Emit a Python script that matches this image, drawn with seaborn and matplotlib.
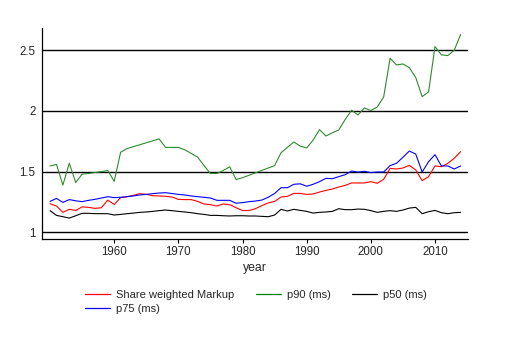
import numpy as np
import pandas as pd
import matplotlib
matplotlib.use("Agg")
import matplotlib.pyplot as plt
import seaborn as sns

years = list(range(1950, 2015))

markup = [1.236, 1.217, 1.165, 1.19, 1.18, 1.21, 1.206, 1.198, 1.203, 1.266,
          1.23, 1.286, 1.294, 1.305, 1.319, 1.313, 1.302, 1.30, 1.297, 1.291,
          1.272, 1.27, 1.27, 1.255, 1.234, 1.228, 1.217, 1.234, 1.228, 1.203,
          1.18, 1.18, 1.195, 1.22, 1.242, 1.255, 1.291, 1.297, 1.321, 1.321,
          1.313, 1.316, 1.332, 1.346, 1.357, 1.374, 1.387, 1.407, 1.407, 1.407,
          1.418, 1.404, 1.437, 1.527, 1.522, 1.53, 1.552, 1.514, 1.426, 1.459,
          1.547, 1.541, 1.569, 1.61, 1.665]

p90 = [1.547, 1.56, 1.39, 1.57, 1.41, 1.48, 1.485, 1.493, 1.50, 1.51,
       1.42, 1.66, 1.69, 1.706, 1.722, 1.738, 1.754, 1.77, 1.70, 1.70,
       1.70, 1.68, 1.65, 1.62, 1.55, 1.485, 1.485, 1.51, 1.54, 1.435,
       1.45, 1.47, 1.49, 1.51, 1.53, 1.55, 1.656, 1.70, 1.745, 1.71,
       1.695, 1.76, 1.846, 1.794, 1.82, 1.843, 1.93, 2.006, 1.967, 2.025,
       2.003, 2.033, 2.115, 2.434, 2.379, 2.387, 2.357, 2.275, 2.118, 2.157,
       2.53, 2.462, 2.456, 2.50, 2.63]

p50 = [1.179, 1.14, 1.129, 1.118, 1.137, 1.157, 1.157, 1.154, 1.154, 1.154,
       1.143, 1.148, 1.154, 1.159, 1.165, 1.168, 1.173, 1.179, 1.184, 1.179,
       1.173, 1.168, 1.162, 1.154, 1.148, 1.14, 1.14, 1.137, 1.135, 1.137,
       1.137, 1.135, 1.135, 1.132, 1.129, 1.143, 1.19, 1.176, 1.19, 1.181,
       1.173, 1.159, 1.165, 1.168, 1.173, 1.195, 1.187, 1.187, 1.192, 1.19,
       1.179, 1.165, 1.173, 1.179, 1.173, 1.184, 1.20, 1.206, 1.154, 1.17,
       1.181, 1.162, 1.154, 1.162, 1.165]

p75 = [1.255, 1.28, 1.247, 1.27, 1.26, 1.253, 1.264, 1.272, 1.283, 1.294,
       1.286, 1.289, 1.294, 1.30, 1.308, 1.313, 1.319, 1.324, 1.327, 1.32,
       1.313, 1.308, 1.30, 1.294, 1.289, 1.283, 1.264, 1.264, 1.264, 1.24,
       1.245, 1.253, 1.258, 1.266, 1.289, 1.32, 1.368, 1.368, 1.396, 1.40,
       1.38, 1.396, 1.418, 1.445, 1.442, 1.459, 1.475, 1.505, 1.497, 1.503,
       1.492, 1.497, 1.497, 1.55, 1.569, 1.618, 1.67, 1.645, 1.497, 1.582,
       1.64, 1.547, 1.547, 1.522, 1.547]

series_names = ["Share weighted Markup", "p90 (ms)", "p50 (ms)", "p75 (ms)"]
series_colors = ["#ff0000", "#2e8b2e", "#000000", "#0000ff"]
legend_colors = ["#ff0000", "#008000", "#000000", "#0000ff"]
yticks = [1, 1.5, 2, 2.5]
ytick_labels = ["1", "1.5", "2", "2.5"]
xticks = [1960, 1970, 1980, 1990, 2000, 2010]

df = pd.DataFrame({
    "year": years * 4,
    "value": markup + p90 + p50 + p75,
    "series": sum([[n] * len(years) for n in series_names], []),
})

sns.set_theme(style="white")
plt.rcParams["font.family"] = ["Liberation Sans", "DejaVu Sans"]

fig = plt.figure(figsize=(5.23, 3.42), dpi=100)
ax = fig.add_axes([0.081, 0.301, 0.8145, 0.616])

for y in yticks:
    ax.axhline(y, color="black", lw=1.0, zorder=1)

sns.lineplot(data=df, x="year", y="value", hue="series", hue_order=series_names,
             palette=dict(zip(series_names, series_colors)), lw=0.8,
             legend=False, ax=ax, zorder=3)

ax.set_xlim(1948.8, 2015.2)
ax.set_ylim(0.945, 2.68)
ax.set_xticks(xticks)
ax.set_xticklabels([str(x) for x in xticks])
ax.set_yticks(yticks)
ax.set_yticklabels(ytick_labels)
ax.tick_params(axis="x", direction="out", length=3, width=0.8, color="black",
               labelsize=8.3, pad=2, bottom=True)
ax.tick_params(axis="y", length=0, labelsize=8.3, pad=5, left=False)
ax.set_xlabel("year", fontsize=8.8, labelpad=3)
ax.set_ylabel("")
for s in ["top", "right"]:
    ax.spines[s].set_visible(False)
for s in ["left", "bottom"]:
    ax.spines[s].set_color("black")
    ax.spines[s].set_linewidth(0.9)
ax.grid(False)

handles = {n: plt.Line2D([], [], color=c, lw=0.9) for n, c in zip(series_names, legend_colors)}
order = ["Share weighted Markup", "p75 (ms)", "p90 (ms)", "p50 (ms)"]
fig.legend([handles[n] for n in order], order, ncol=3, loc="upper left",
           bbox_to_anchor=(0.163, 0.152), frameon=False, fontsize=8.0,
           handlelength=2.25, handletextpad=0.55, columnspacing=1.9,
           labelspacing=0.35, borderaxespad=0, borderpad=0)

fig.savefig("out.png", dpi=100)
